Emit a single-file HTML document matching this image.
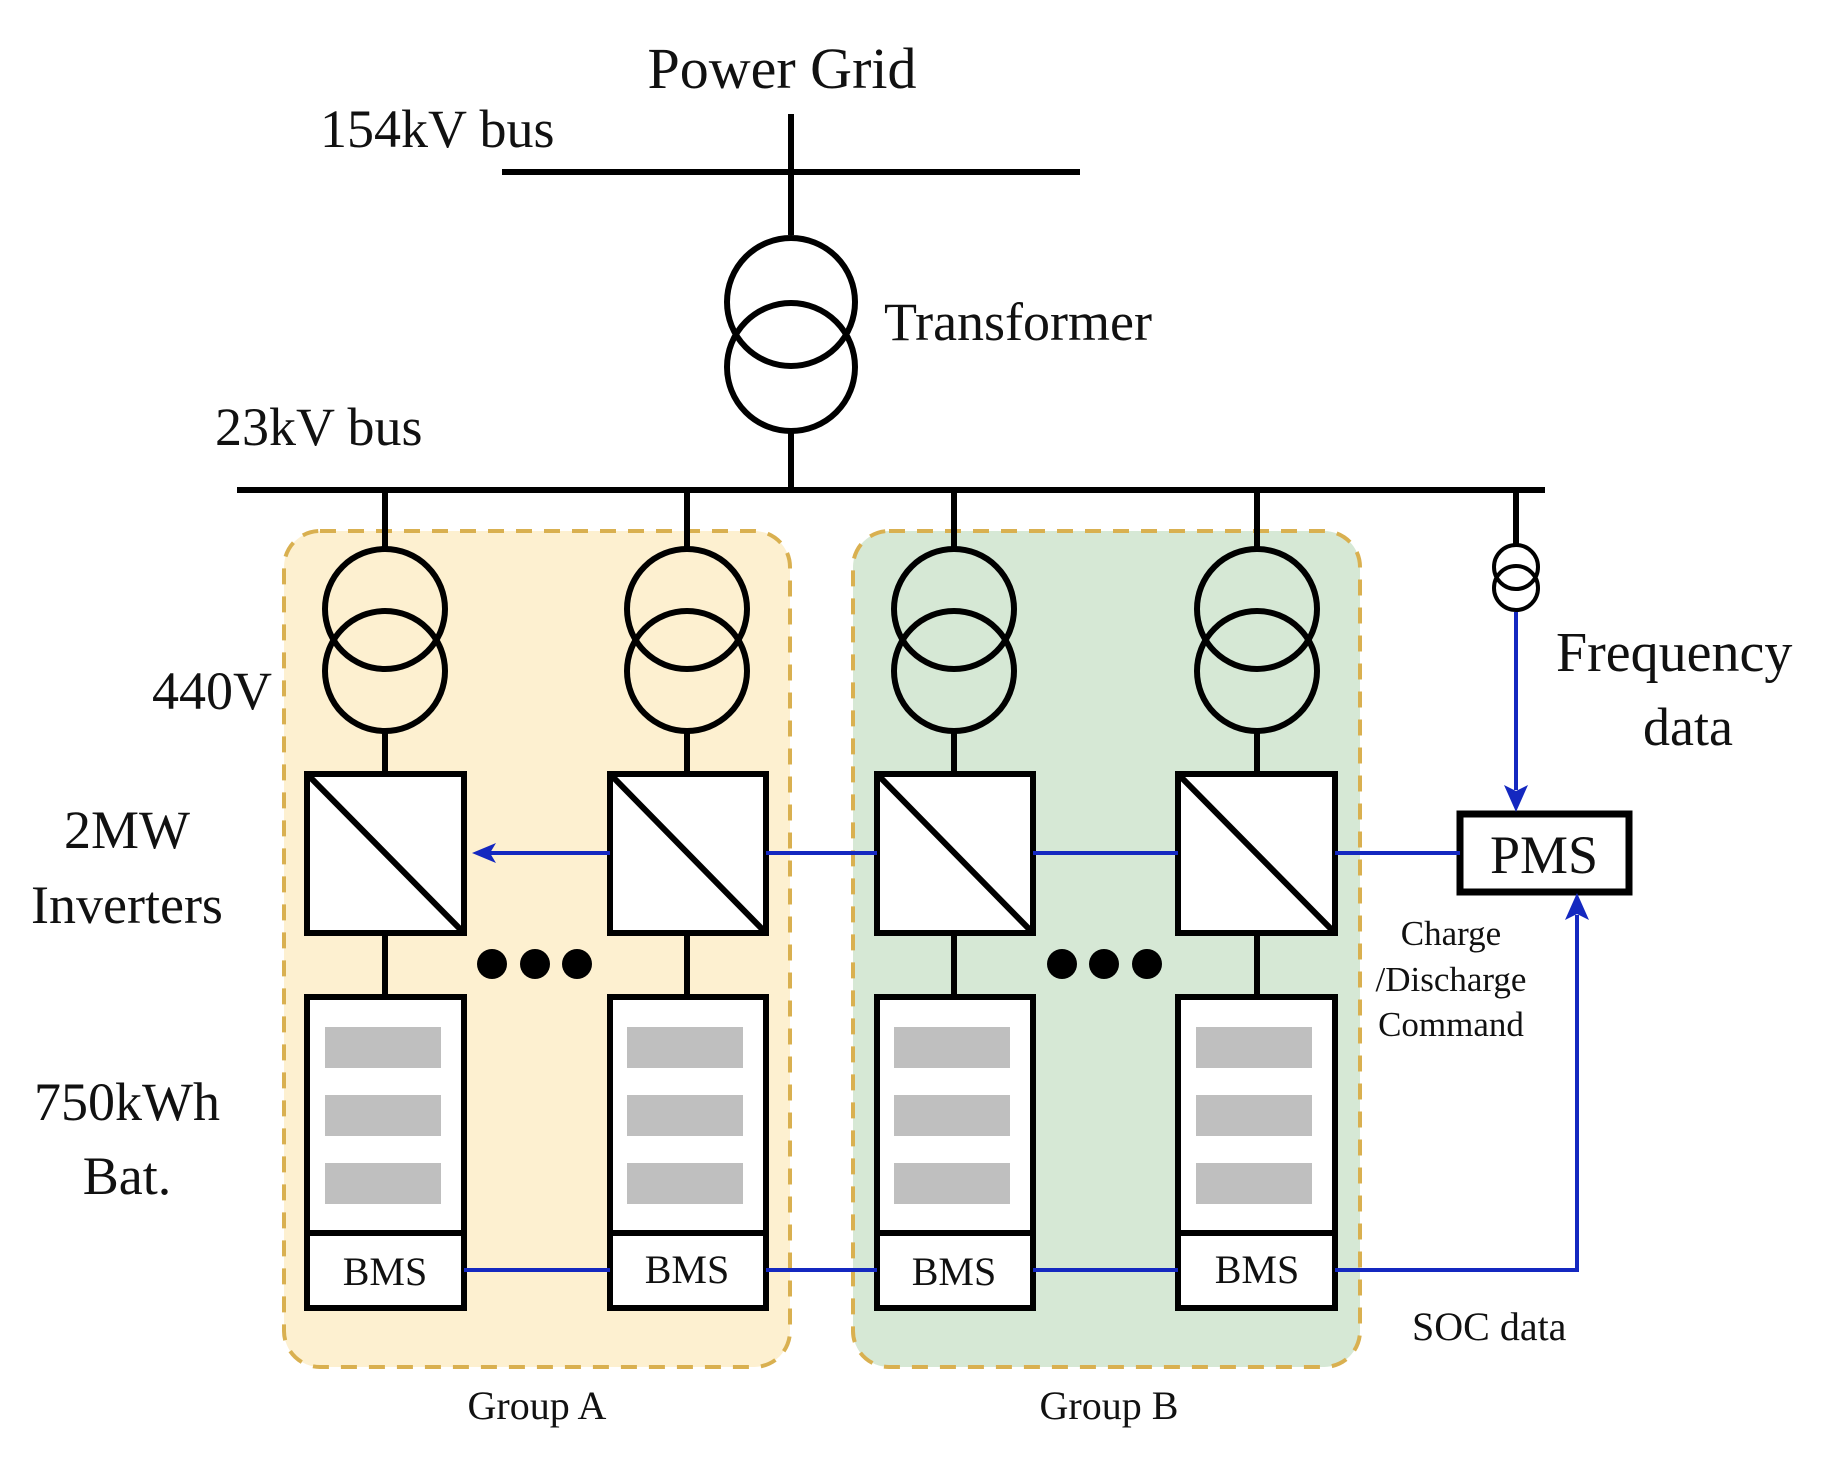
<!DOCTYPE html>
<html><head><meta charset="utf-8"><style>
html,body{margin:0;padding:0;background:#fff;}
svg{display:block;}
text{font-family:"Liberation Serif",serif;fill:#111;}
</style></head><body>
<svg width="1829" height="1458" viewBox="0 0 1829 1458" xmlns="http://www.w3.org/2000/svg">
<!-- group boxes -->
<rect x="284" y="531" width="506" height="836" rx="36" fill="#fdf0d0" stroke="#d9b050" stroke-width="4" stroke-dasharray="16,12"/>
<rect x="853" y="531" width="507" height="836" rx="36" fill="#d6e8d5" stroke="#d9b050" stroke-width="4" stroke-dasharray="16,12"/>

<g stroke="#000" stroke-width="6" fill="none">
<line x1="791" y1="114" x2="791" y2="235"/>
<line x1="502" y1="172" x2="1080" y2="172"/>
<circle cx="791" cy="302" r="64"/>
<circle cx="791" cy="367" r="64"/>
<line x1="791" y1="431" x2="791" y2="490"/>
<line x1="237" y1="490" x2="1545" y2="490"/>
<line x1="1516" y1="490" x2="1516" y2="545"/>
<circle cx="1516" cy="567" r="22" stroke-width="4"/>
<circle cx="1516" cy="588" r="22" stroke-width="4"/>
<rect x="1460" y="814" width="169" height="78" fill="#fff" stroke-width="7"/>
</g>

<g stroke="#000" stroke-width="6" fill="none">
<line x1="385" y1="490" x2="385" y2="549"/><circle cx="385" cy="609" r="60"/><circle cx="385" cy="671" r="60"/><line x1="385" y1="731" x2="385" y2="774"/><line x1="385" y1="933" x2="385" y2="997"/>
<line x1="687" y1="490" x2="687" y2="549"/><circle cx="687" cy="609" r="60"/><circle cx="687" cy="671" r="60"/><line x1="687" y1="731" x2="687" y2="774"/><line x1="687" y1="933" x2="687" y2="997"/>
<line x1="954" y1="490" x2="954" y2="549"/><circle cx="954" cy="609" r="60"/><circle cx="954" cy="671" r="60"/><line x1="954" y1="731" x2="954" y2="774"/><line x1="954" y1="933" x2="954" y2="997"/>
<line x1="1257" y1="490" x2="1257" y2="549"/><circle cx="1257" cy="609" r="60"/><circle cx="1257" cy="671" r="60"/><line x1="1257" y1="731" x2="1257" y2="774"/><line x1="1257" y1="933" x2="1257" y2="997"/>
</g>

<g stroke="#000" stroke-width="6" fill="#fff">
<rect x="307" y="774" width="157" height="159"/><line x1="307" y1="774" x2="464" y2="933"/>
<rect x="610" y="774" width="156" height="159"/><line x1="610" y1="774" x2="766" y2="933"/>
<rect x="877" y="774" width="156" height="159"/><line x1="877" y1="774" x2="1033" y2="933"/>
<rect x="1178" y="774" width="157" height="159"/><line x1="1178" y1="774" x2="1335" y2="933"/>
</g>

<g stroke="#000" stroke-width="6" fill="#fff">
<rect x="307" y="997" width="157" height="311"/><line x1="307" y1="1233" x2="464" y2="1233"/>
<rect x="610" y="997" width="156" height="311"/><line x1="610" y1="1233" x2="766" y2="1233"/>
<rect x="877" y="997" width="156" height="311"/><line x1="877" y1="1233" x2="1033" y2="1233"/>
<rect x="1178" y="997" width="157" height="311"/><line x1="1178" y1="1233" x2="1335" y2="1233"/>
</g>
<g fill="#bfbfbf">
<rect x="325" y="1027" width="116" height="41"/><rect x="325" y="1095" width="116" height="41"/><rect x="325" y="1163" width="116" height="41"/>
<rect x="627" y="1027" width="116" height="41"/><rect x="627" y="1095" width="116" height="41"/><rect x="627" y="1163" width="116" height="41"/>
<rect x="894" y="1027" width="116" height="41"/><rect x="894" y="1095" width="116" height="41"/><rect x="894" y="1163" width="116" height="41"/>
<rect x="1196" y="1027" width="116" height="41"/><rect x="1196" y="1095" width="116" height="41"/><rect x="1196" y="1163" width="116" height="41"/>
</g>
<g font-size="40" text-anchor="middle">
<text x="385" y="1285">BMS</text><text x="687" y="1283">BMS</text><text x="954" y="1285">BMS</text><text x="1257" y="1283">BMS</text>
</g>

<g fill="#000">
<circle cx="492" cy="964" r="15"/><circle cx="535" cy="964" r="15"/><circle cx="577" cy="964" r="15"/>
<circle cx="1062" cy="964" r="15"/><circle cx="1104" cy="964" r="15"/><circle cx="1147" cy="964" r="15"/>
</g>

<g stroke="#1428c0" stroke-width="4" fill="none">
<line x1="484" y1="853" x2="610" y2="853"/>
<line x1="766" y1="853" x2="877" y2="853"/>
<line x1="1033" y1="853" x2="1178" y2="853"/>
<line x1="1335" y1="853" x2="1460" y2="853"/>
<line x1="1516" y1="612" x2="1516" y2="790"/>
<line x1="464" y1="1270" x2="610" y2="1270"/>
<line x1="766" y1="1270" x2="877" y2="1270"/>
<line x1="1033" y1="1270" x2="1178" y2="1270"/>
<polyline points="1335,1270 1577,1270 1577,915"/>
</g>
<g fill="#1428c0">
<polygon points="472,853 496,843 490,853 496,863"/>
<polygon points="1516,812 1504,785 1516,791 1528,785"/>
<polygon points="1577,893 1565,920 1577,914 1589,920"/>
</g>

<g font-size="54">
<text x="782" y="88" text-anchor="middle" font-size="58">Power Grid</text>
<text x="320" y="147">154kV bus</text>
<text x="884" y="340">Transformer</text>
<text x="215" y="445">23kV bus</text>
<text x="152" y="709">440V</text>
<text x="127" y="848" text-anchor="middle">2MW</text>
<text x="127" y="923" text-anchor="middle">Inverters</text>
<text x="127" y="1120" text-anchor="middle">750kWh</text>
<text x="127" y="1194" text-anchor="middle">Bat.</text>
<text x="1556" y="671" font-size="56">Frequency</text>
<text x="1688" y="745" text-anchor="middle">data</text>
<text x="1544" y="873" text-anchor="middle">PMS</text>
</g>
<g font-size="35" text-anchor="middle">
<text x="1451" y="945">Charge</text>
<text x="1451" y="991">/Discharge</text>
<text x="1451" y="1036">Command</text>
</g>
<text x="1412" y="1340" font-size="40">SOC data</text>
<g font-size="40" text-anchor="middle">
<text x="537" y="1419">Group A</text>
<text x="1109" y="1419">Group B</text>
</g>
</svg>
</body></html>
